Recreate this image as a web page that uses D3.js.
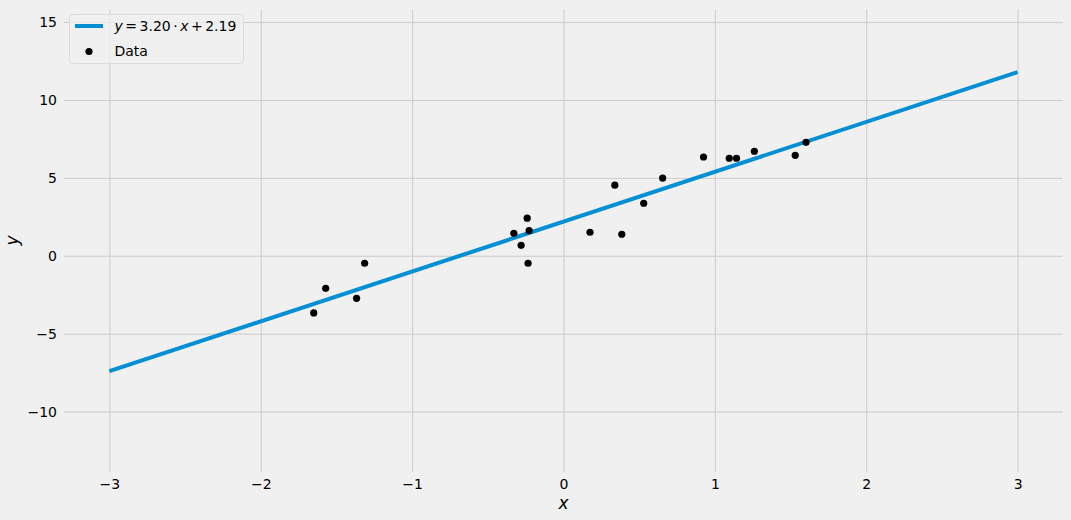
<!DOCTYPE html>
<html>
<head>
<meta charset="utf-8">
<script src="https://cdn.jsdelivr.net/npm/d3@7"></script>
<style>
  html, body { margin: 0; padding: 0; background: #f0f0f0; }
  svg { display: block; font-family: 'DejaVu Sans', sans-serif; }
</style>
</head>
<body>
<div id="chart"></div>
<script>
// data
const xData = [-1.650, -1.571, -1.367, -1.314, -0.328, -0.280, -0.240, -0.227, -0.234, 0.175,
  0.339, 0.385, 0.530, 0.655, 0.925, 1.095, 1.143, 1.261, 1.531, 1.602];
const yData = [-3.67, -2.09, -2.73, -0.48, 1.44, 0.67, 2.41, 1.61, -0.48, 1.51,
  4.53, 1.38, 3.37, 4.99, 6.34, 6.26, 6.26, 6.71, 6.45, 7.28];
const slope = 3.20;
const intercept = 2.19;
const lineXs = [-3, 3];
const xTicks = [-3, -2, -1, 0, 1, 2, 3];
const yTicks = [-10, -5, 0, 5, 10, 15];

const width = 1071;
const height = 520;
const margin = { top: 9.3, right: 8, bottom: 48.3, left: 64 };

const bg = '#f0f0f0';
const gridColor = '#cbcbcb';
const lineColor = '#008fd5';

const svg = d3.select('#chart').append('svg')
  .attr('width', width)
  .attr('height', height);

svg.append('rect')
  .attr('width', width)
  .attr('height', height)
  .attr('fill', bg);

const x = d3.scaleLinear()
  .domain([-3.3, 3.3])
  .range([margin.left, width - margin.right]);

const y = d3.scaleLinear()
  .domain([-13.86, 15.82])
  .range([height - margin.bottom, margin.top]);

//
// grid + tick labels
//

const fmt = d => (d < 0 ? '\u2212' + Math.abs(d) : d);

const xAxis = svg.append('g')
  .attr('transform', `translate(0,${height - margin.bottom})`)
  .call(d3.axisBottom(x)
    .tickValues(xTicks)
    .tickSize(-(height - margin.top - margin.bottom))
    .tickPadding(7)
    .tickFormat(fmt));

const yAxis = svg.append('g')
  .attr('transform', `translate(${margin.left},0)`)
  .call(d3.axisLeft(y)
    .tickValues(yTicks)
    .tickSize(-(width - margin.left - margin.right))
    .tickPadding(7)
    .tickFormat(fmt));

[xAxis, yAxis].forEach(ax => {
  ax.select('.domain').remove();
  ax.selectAll('.tick line')
    .attr('stroke', gridColor)
    .attr('stroke-width', 1);
  ax.selectAll('.tick text')
    .attr('fill', '#000')
    .style('font-size', '14px')
    .style('font-family', "'DejaVu Sans', sans-serif");
});

//
// fit line
//

const lineData = lineXs.map(v => ({ x: v, y: slope * v + intercept }));

svg.append('path')
  .datum(lineData)
  .attr('fill', 'none')
  .attr('stroke', lineColor)
  .attr('stroke-width', 4)
  .attr('d', d3.line().x(d => x(d.x)).y(d => y(d.y)));

//
// scatter points
//

const points = xData.map((v, i) => ({ x: v, y: yData[i] }));

svg.append('g')
  .selectAll('circle')
  .data(points)
  .enter().append('circle')
    .attr('cx', d => x(d.x))
    .attr('cy', d => y(d.y))
    .attr('r', 3.6)
    .attr('fill', '#000');

//
// axis labels
//

svg.append('text')
  .attr('x', (margin.left + width - margin.right) / 2)
  .attr('y', 509)
  .attr('text-anchor', 'middle')
  .style('font-size', '17px')
  .style('font-style', 'italic')
  .text('x');

svg.append('text')
  .attr('transform', `translate(18,${(margin.top + height - margin.bottom) / 2}) rotate(-90)`)
  .attr('text-anchor', 'middle')
  .style('font-size', '17px')
  .style('font-style', 'italic')
  .text('y');

//
// legend
//

const legend = svg.append('g')
  .attr('transform', 'translate(69.5,14.5)');

legend.append('rect')
  .attr('width', 174)
  .attr('height', 49)
  .attr('rx', 3)
  .attr('fill', bg)
  .attr('fill-opacity', 0.8)
  .attr('stroke', '#dcdcdc')
  .attr('stroke-width', 1);

legend.append('line')
  .attr('x1', 5.5)
  .attr('x2', 33.5)
  .attr('y1', 11.5)
  .attr('y2', 11.5)
  .attr('stroke', lineColor)
  .attr('stroke-width', 4);

legend.append('circle')
  .attr('cx', 19.5)
  .attr('cy', 37)
  .attr('r', 3.6)
  .attr('fill', '#000');

// mathtext-like label with tight operator spacing
const eq = legend.append('text')
  .attr('x', 45)
  .attr('y', 16.5)
  .style('font-size', '14px')
  .attr('fill', '#000');
const eqParts = [
  { t: 'y', italic: true, dx: 0 },
  { t: '=', dx: 2.5 },
  { t: slope.toFixed(2), dx: 2.5 },
  { t: '\u00b7', dx: 2.5 },
  { t: 'x', italic: true, dx: 2.5 },
  { t: '+', dx: 2.5 },
  { t: intercept.toFixed(2), dx: 2.5 },
];
eqParts.forEach(p => {
  eq.append('tspan')
    .attr('dx', p.dx)
    .style('font-style', p.italic ? 'italic' : 'normal')
    .text(p.t);
});

legend.append('text')
  .attr('x', 45)
  .attr('y', 41.5)
  .style('font-size', '14px')
  .attr('fill', '#000')
  .text('Data');
</script>
</body>
</html>
